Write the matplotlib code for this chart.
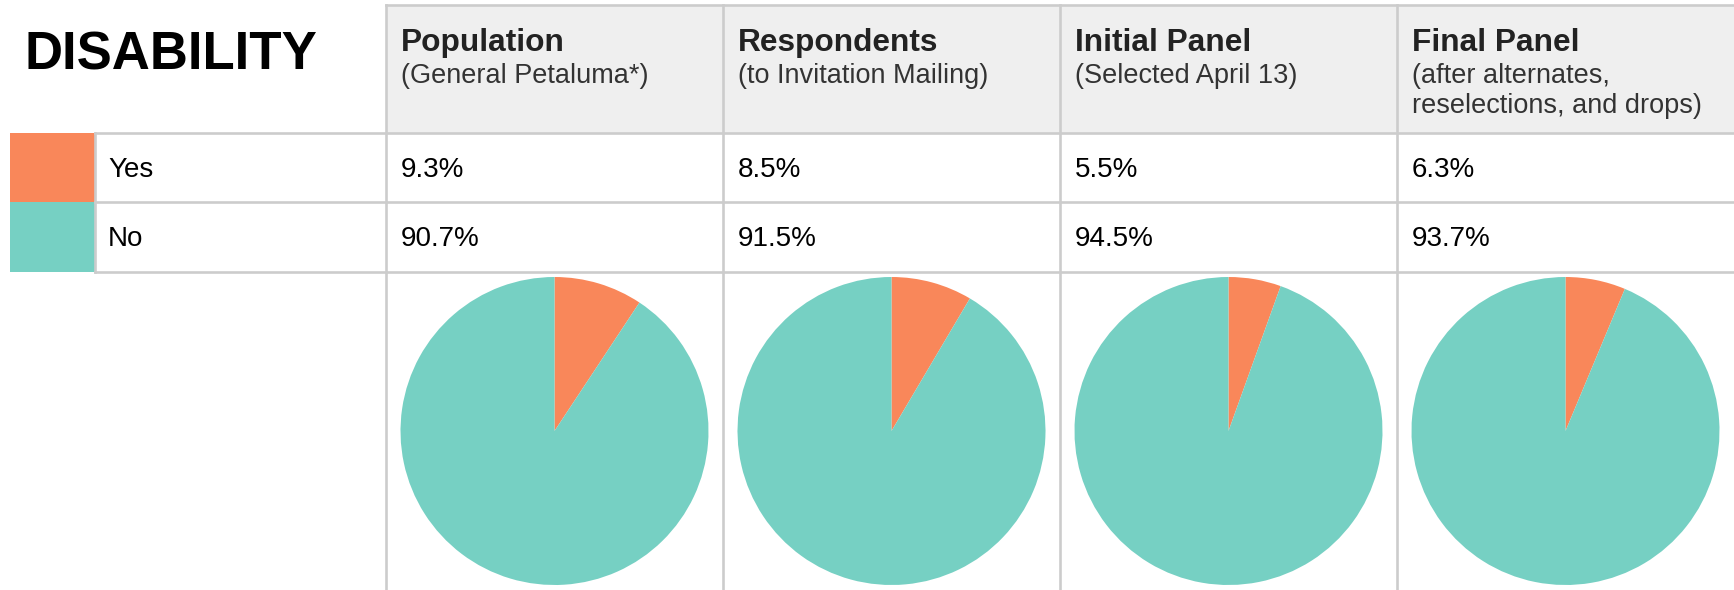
import matplotlib.pyplot as plt
from matplotlib.patches import Rectangle

plt.rcParams['font.family'] = ['Liberation Sans', 'DejaVu Sans']

title = "DISABILITY"
groups = ["Population", "Respondents", "Initial Panel", "Final Panel"]
subtitles = ["(General Petaluma*)", "(to Invitation Mailing)", "(Selected April 13)",
             "(after alternates,\nreselections, and drops)"]
categories = ["Yes", "No"]
yes_pct = [9.3, 8.5, 5.5, 6.3]
no_pct = [90.7, 91.5, 94.5, 93.7]
colors = ["#F9875A", "#76D0C3"]

W, H = 1734, 590
fig = plt.figure(figsize=(W / 100, H / 100), dpi=100)
ax = fig.add_axes([0, 0, 1, 1])
ax.set_xlim(0, W)
ax.set_ylim(H, 0)
ax.axis('off')

grid = "#CCCCCC"
lw = 1.9
col_left = 386
col_w = 337
row_y = [133, 202, 272]   # bottom of header, yes row, no row
top_y = 5

# header background
ax.add_patch(Rectangle((col_left, top_y), W - col_left, row_y[0] - top_y,
                       facecolor="#EFEFEF", edgecolor="none", zorder=0))

# legend swatches
for i, c in enumerate(colors):
    y0 = row_y[i]
    ax.add_patch(Rectangle((10, y0), 85, row_y[i + 1] - y0, facecolor=c,
                           edgecolor="none", zorder=1))

# grid lines
ax.plot([col_left, W], [top_y, top_y], color=grid, lw=lw, zorder=2)
for y in row_y:
    ax.plot([95, W], [y, y], color=grid, lw=lw, zorder=2)
ax.plot([95, 95], [row_y[0], row_y[2]], color=grid, lw=lw, zorder=2)
for j in range(len(groups)):
    x = col_left + j * col_w
    ax.plot([x, x], [top_y, H], color=grid, lw=lw, zorder=2)

# title
ax.text(24, 70, title, fontsize=38, fontweight='bold', color='black',
        va='baseline', ha='left')

# category labels
for i, cat in enumerate(categories):
    base = row_y[i] + 44
    ax.text(108, base, cat, fontsize=20, color='black', va='baseline')

# headers and values
for j, g in enumerate(groups):
    x = col_left + j * col_w + 15
    ax.text(x, 51, g, fontsize=22.8, fontweight='bold', color='#222222', va='baseline')
    for k, line in enumerate(subtitles[j].split("\n")):
        ax.text(x, 83 + k * 30, line, fontsize=19.5, color='#333333', va='baseline')
    ax.text(x, row_y[0] + 44, f"{yes_pct[j]}%", fontsize=20, color='black', va='baseline')
    ax.text(x, row_y[1] + 44, f"{no_pct[j]}%", fontsize=20, color='black', va='baseline')

# pies
r = 154
cy = 431
for j in range(len(groups)):
    cx = col_left + j * col_w + col_w / 2
    pax = fig.add_axes([(cx - r) / W, (H - cy - r) / H, 2 * r / W, 2 * r / H])
    pax.pie([yes_pct[j], no_pct[j]], colors=colors, startangle=90,
            counterclock=False, radius=1)
    pax.set_xlim(-1, 1)
    pax.set_ylim(-1, 1)
    pax.axis('off')

fig.savefig("out.png", dpi=100)
